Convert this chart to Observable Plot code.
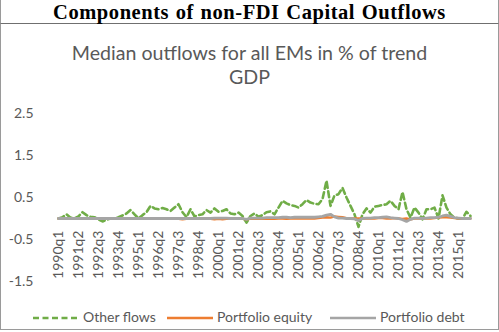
<!DOCTYPE html>
<html><head><meta charset="utf-8">
<script src="https://cdn.jsdelivr.net/npm/d3@7"></script>
<script src="https://cdn.jsdelivr.net/npm/@observablehq/plot@0.6"></script>
<style>
html,body{margin:0;padding:0;background:#fff;}
#wrap{position:relative;width:499px;height:332px;overflow:hidden;background:#fff;}
#title{position:absolute;left:0;top:0;width:499px;height:24px;box-sizing:border-box;border-bottom:1px solid #6f6f6f;border-left:1px solid #9a9a9a;border-right:1px solid #9a9a9a;
 font-family:"Liberation Serif","Times New Roman",serif;font-weight:bold;font-size:20.5px;line-height:24px;text-align:center;color:#000;letter-spacing:0.55px;word-spacing:1px;}
#box{position:absolute;left:0;top:24px;width:499px;height:306px;box-sizing:border-box;border-left:1px solid #9a9a9a;border-right:1px solid #9a9a9a;border-bottom:1px solid #9a9a9a;}
#sub{position:absolute;left:0;top:41px;width:499px;text-align:center;font-family:Lato,sans-serif;font-size:19.6px;line-height:24px;color:#595959;}
#plot{position:absolute;left:0;top:90px;}
#legend{position:absolute;left:0;top:308px;width:499px;height:18px;font-family:Lato,sans-serif;font-size:14px;color:#595959;}
.li{position:absolute;top:0;height:18px;line-height:18px;white-space:nowrap;}
.li svg{vertical-align:middle;margin-right:4px;}
</style>
</head><body>
<div id="wrap">
  <div id="title">Components of non-FDI Capital Outflows</div>
  <div id="box"></div>
  <div id="sub">Median outflows for all EMs in % of trend<br>GDP</div>
  <div id="plot"></div>
  <div id="legend"></div>
</div>
<script>
// Quarters 1990q1 .. 2015q4
const years = d3.range(1990, 2016);
const quarters = years.flatMap(y => [1,2,3,4].map(q => `${y}q${q}`));

const otherFlows = [
  0.00, 0.03, 0.10, 0.02, 0.00, 0.05, 0.15, 0.08, 0.04, 0.03,
 -0.02,-0.07,-0.03, 0.00, 0.00, 0.03, 0.07, 0.12, 0.20, 0.10,
  0.00, 0.08, 0.15, 0.30, 0.24, 0.22, 0.25, 0.22, 0.18, 0.26,
  0.34, 0.15, 0.03, 0.22, 0.05, 0.08, 0.10, 0.20, 0.14, 0.24,
  0.16, 0.18, 0.22, 0.12, 0.10, 0.14, 0.06,-0.10, 0.06, 0.12,
  0.04, 0.08, 0.15, 0.17, 0.10, 0.26, 0.42, 0.36, 0.32, 0.30,
  0.26, 0.34, 0.44, 0.38, 0.35, 0.34, 0.46, 0.90, 0.30, 0.55,
  0.58, 0.73, 0.50, 0.30, 0.10,-0.20, 0.10, 0.24, 0.14, 0.28,
  0.30, 0.32, 0.34, 0.42, 0.30, 0.22, 0.63, 0.22, 0.02, 0.26,
  0.14,-0.02, 0.22, 0.22, 0.26, 0.00, 0.55, 0.26, 0.10, 0.02,
  0.00, 0.00, 0.16, 0.06
];
const portfolioEquity = [
  0.00, 0.00, 0.00, 0.00, 0.00, 0.00, 0.00, 0.00, 0.00, 0.00,
  0.00, 0.00, 0.00, 0.00, 0.00, 0.00, 0.00, 0.00, 0.00, 0.00,
  0.00, 0.00, 0.00, 0.00, 0.00, 0.00, 0.00, 0.00, 0.00, 0.00,
 -0.01,-0.02,-0.01, 0.00, 0.00, 0.00, 0.00, 0.00,-0.01,-0.02,
 -0.01,-0.02,-0.01, 0.00, 0.00,-0.01,-0.01,-0.02,-0.01, 0.00,
 -0.01,-0.01, 0.00,-0.01,-0.01, 0.00, 0.00,-0.01, 0.00, 0.00,
  0.00, 0.00, 0.00, 0.00, 0.00, 0.01, 0.02, 0.03, 0.02, 0.05,
  0.04, 0.03, 0.01, 0.00, 0.00, 0.00, 0.00, 0.00, 0.00, 0.00,
  0.01, 0.01, 0.00, 0.00, 0.01, 0.00,-0.01, 0.00,-0.02, 0.00,
  0.00, 0.00, 0.00, 0.00, 0.01, 0.02, 0.03, 0.03, 0.02, 0.01,
  0.00, 0.00, 0.00, 0.00
];
const portfolioDebt = [
  0.00, 0.00, 0.00, 0.00, 0.00, 0.00, 0.00, 0.00, 0.00, 0.00,
  0.00, 0.00, 0.00, 0.00, 0.00, 0.00, 0.00, 0.00, 0.00, 0.00,
  0.00, 0.00, 0.00, 0.00, 0.00, 0.00, 0.00, 0.00, 0.00, 0.00,
  0.00, 0.00, 0.00, 0.00, 0.00, 0.00, 0.00, 0.00, 0.00, 0.01,
  0.01, 0.01, 0.01, 0.00, 0.00, 0.00, 0.00,-0.02, 0.01, 0.01,
  0.01, 0.01, 0.02, 0.02, 0.02, 0.02, 0.03, 0.03, 0.02, 0.03,
  0.03, 0.03, 0.03, 0.03, 0.03, 0.04, 0.05, 0.08, 0.10, 0.04,
  0.01, 0.01, 0.00, 0.00,-0.01,-0.05, 0.00, 0.01, 0.01, 0.02,
  0.02, 0.03, 0.04, 0.02, 0.01, 0.00,-0.03,-0.07,-0.02, 0.01,
  0.01, 0.00, 0.01, 0.02, 0.02, 0.03, 0.06, 0.08, 0.05, 0.02,
  0.01, 0.00, 0.00, 0.00
];
const yTicks = [-1.5, -0.5, 0.5, 1.5, 2.5];
const xTickLabels = ["1990q1","1991q2","1992q3","1993q4","1995q1","1996q2","1997q3","1998q4","2000q1","2001q2","2002q3","2003q4","2005q1","2006q2","2007q3","2008q4","2010q1","2011q2","2012q3","2013q4","2015q1"];

const seriesNames = ["Other flows", "Portfolio equity", "Portfolio debt"];
const colors = ["#70AD47", "#ED7D31", "#A5A5A5"];

const rows = (vals) => quarters.map((q, i) => ({q, v: vals[i]}));

const chart = Plot.plot({
  width: 499,
  height: 210,
  marginLeft: 49,
  marginRight: 20,
  marginTop: 23,
  marginBottom: 19,
  style: {fontFamily: "Lato, sans-serif", fontSize: "13px", color: "#595959", background: "transparent", overflow: "visible"},
  x: {type: "point", domain: quarters, padding: 0, axis: null},
  y: {domain: [-1.5, 2.5], axis: null},
  marks: [
    Plot.ruleY([0], {stroke: "#d9d9d9", strokeWidth: 1, x1: quarters[0], x2: quarters[quarters.length-1]}),
    Plot.line(rows(otherFlows), {x: "q", y: "v", stroke: colors[0], strokeWidth: 2.6, strokeDasharray: "6,3.5", strokeLinejoin: "round"}),
    Plot.line(rows(portfolioEquity), {x: "q", y: "v", stroke: colors[1], strokeWidth: 2.4, strokeLinejoin: "round"}),
    Plot.line(rows(portfolioDebt), {x: "q", y: "v", stroke: colors[2], strokeWidth: 2.8, strokeLinejoin: "round"}),
    Plot.axisY(yTicks, {tickSize: 0, tickPadding: 16, tickFormat: d => d.toFixed(1), fill: "#595959", fontSize: 14, label: null}),
    Plot.text(xTickLabels, {x: d => d, y: () => 0, rotate: -90, textAnchor: "end", dy: 12, fill: "#595959", fontSize: 14})
  ]
});
document.getElementById("plot").appendChild(chart);

// Legend
const legend = document.getElementById("legend");
const legendPos = [33, 167, 330];
seriesNames.forEach((name, i) => {
  const div = document.createElement("div");
  div.className = "li";
  div.style.left = legendPos[i] + "px";
  const dash = i === 0 ? 'stroke-dasharray="6,3.5"' : "";
  div.innerHTML = `<svg width="46" height="6"><line x1="0" y1="3" x2="46" y2="3" stroke="${colors[i]}" stroke-width="2.6" ${dash}/></svg>${name}`;
  legend.appendChild(div);
});
</script>
</body></html>
